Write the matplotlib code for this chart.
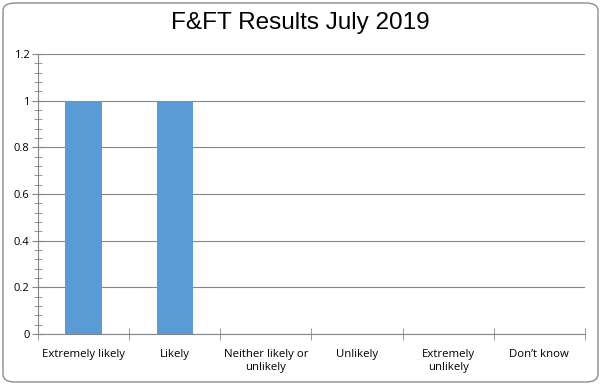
import matplotlib.pyplot as plt
from matplotlib.patches import FancyBboxPatch
from matplotlib.ticker import MultipleLocator
import numpy as np

categories = ['Extremely likely', 'Likely', 'Neither likely or\nunlikely', 'Unlikely',
              'Extremely\nunlikely', 'Don\u2019t know']
values = [1, 1, 0, 0, 0, 0]
y_ticks = [0, 0.2, 0.4, 0.6, 0.8, 1, 1.2]
y_labels = ['0', '0.2', '0.4', '0.6', '0.8', '1', '1.2']

plt.rcParams['font.family'] = ['Open Sans', 'DejaVu Sans']

fig = plt.figure(figsize=(6.01, 3.85), dpi=100)
ax = fig.add_axes([38 / 601, 1 - 334 / 385, (585 - 38) / 601, (334 - 54) / 385])

# rounded chart border
border = FancyBboxPatch((3 / 601, 3 / 385), 595 / 601, 379 / 385,
                        boxstyle='round,pad=0,rounding_size=0.02',
                        transform=fig.transFigure, fill=False,
                        edgecolor='#8c8c8c', linewidth=1.0)
fig.patches.append(border)

x = np.arange(len(categories))
ax.bar(x, values, width=0.4, color='#5b9bd5', zorder=3)

ax.set_xlim(-0.5, len(categories) - 0.5)
ax.set_ylim(0, 1.2)
ax.set_yticks(y_ticks)
ax.set_yticklabels(y_labels, fontsize=8)
ax.yaxis.set_minor_locator(MultipleLocator(0.04))
ax.set_xticks(x)
ax.set_xticklabels(categories, fontsize=8.2, linespacing=1.25)
ax.set_xticks(np.arange(-0.5, len(categories), 0.5), minor=True)

ax.tick_params(axis='x', which='major', length=0, pad=11)
ax.tick_params(axis='x', which='minor', direction='inout', length=8, color='#868686')
ax.tick_params(axis='y', which='major', direction='inout', length=8, color='#868686', pad=2)
ax.tick_params(axis='y', which='minor', direction='inout', length=6, color='#868686')

ax.grid(axis='y', which='major', color='#868686', linewidth=0.8, zorder=0)
for side in ['top', 'right']:
    ax.spines[side].set_visible(False)
for side in ['left', 'bottom']:
    ax.spines[side].set_color('#868686')
    ax.spines[side].set_linewidth(0.8)

fig.text(0.5, 1 - 23 / 385, 'F&FT Results July 2019', ha='center', va='center',
         fontsize=17.5, family=['Liberation Sans', 'DejaVu Sans'])

fig.savefig('out.png', dpi=100)
